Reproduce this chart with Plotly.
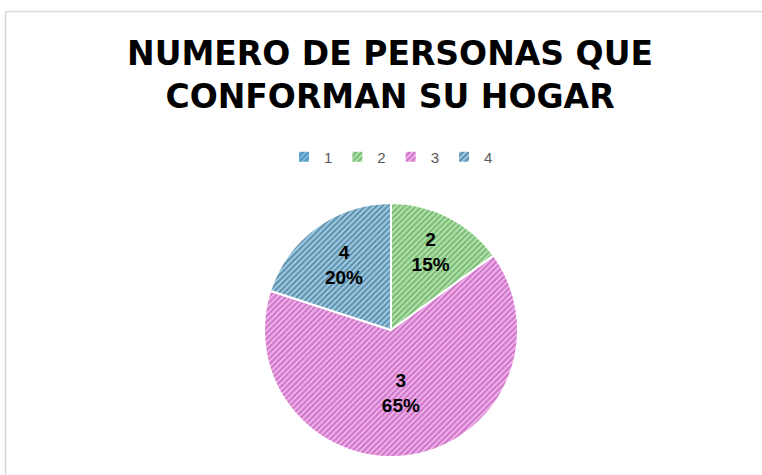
import plotly.graph_objects as go

labels = ["1", "2", "3", "4"]
values = [0, 15, 65, 20]
title_lines = ["NUMERO DE PERSONAS QUE", "CONFORMAN SU HOGAR"]

fg_colors = ["#17709f", "#369336", "#ad32a5", "#1b4c6b"]
bg_colors = ["#7fbadf", "#b6e2ae", "#efb3ea", "#9fcde6"]

W, H = 762, 475
cx, cy, r = 391, 330, 127

fig = go.Figure()
fig.add_trace(go.Pie(
    labels=labels,
    values=values,
    sort=False,
    direction="clockwise",
    rotation=0,
    texttemplate="%{label}<br>%{percent:.0%}",
    textposition="inside",
    insidetextorientation="horizontal",
    textfont=dict(family="Liberation Sans", size=19, color="black", weight="bold"),
    marker=dict(
        colors=fg_colors,
        line=dict(color="white", width=2),
        pattern=dict(shape="/", fgcolor=fg_colors, bgcolor=bg_colors,
                     size=4, solidity=0.5, fillmode="overlay"),
    ),
    hoverinfo="label+percent",
))

top_y = 11.5
left_x = 5.5
fig.update_layout(
    width=W, height=H,
    paper_bgcolor="white",
    margin=dict(l=cx - r, r=W - (cx + r), t=cy - r, b=H - (cy + r), autoexpand=False),
    title=dict(
        text="<br>".join(title_lines),
        x=390 / W, xanchor="center",
        y=1 - 65 / H, yanchor="top",
        xref="container", yref="container",
        font=dict(family="DejaVu Sans", size=33, color="black", weight="bold"),
    ),
    showlegend=True,
    legend=dict(
        orientation="h",
        xref="container", yref="container",
        x=391 / W, xanchor="center",
        y=1 - 157 / H, yanchor="middle",
        font=dict(family="Liberation Sans", size=15, color="#595959"),
        itemwidth=30,
        traceorder="normal",
    ),
    shapes=[
        dict(type="line", xref="paper", yref="paper",
             x0=(left_x - (cx - r)) / (2 * r), x1=(W + 10 - (cx - r)) / (2 * r),
             y0=(cy + r - top_y) / (2 * r), y1=(cy + r - top_y) / (2 * r),
             line=dict(color="#d9d9d9", width=1.5)),
        dict(type="line", xref="paper", yref="paper",
             x0=(left_x - (cx - r)) / (2 * r), x1=(left_x - (cx - r)) / (2 * r),
             y0=(cy + r - top_y) / (2 * r), y1=(cy + r - (H + 10)) / (2 * r),
             line=dict(color="#d9d9d9", width=1.5)),
    ],
)

fig.write_html("out.html", config={"displayModeBar": False},
               post_script="document.body.style.margin='0';")
